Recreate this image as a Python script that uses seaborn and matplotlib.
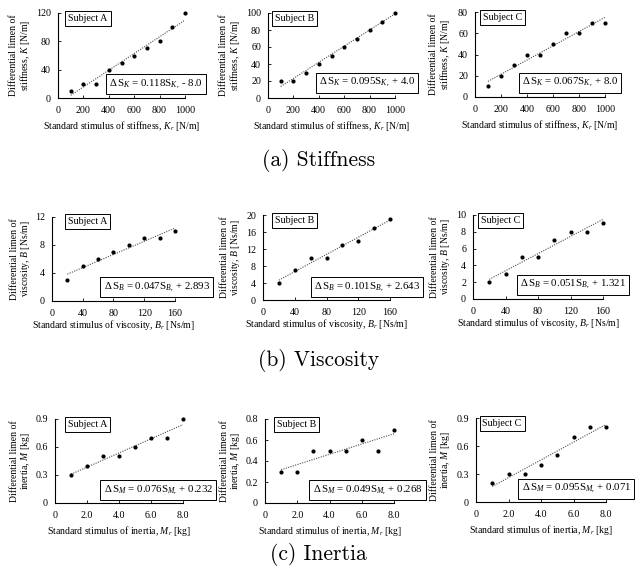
import numpy as np
import pandas as pd
import seaborn as sns
import matplotlib.pyplot as plt

# ---------------------------------------------------------------- data
stiff_x = [100, 200, 300, 400, 500, 600, 700, 800, 900, 1000]
stiff_a = [10, 20, 20, 40, 50, 60, 70, 80, 100, 120]
stiff_b = [20, 20, 30, 40, 50, 60, 70, 80, 90, 100]
stiff_c = [10, 20, 30, 40, 40, 50, 60, 60, 70, 70]
stiff_slope = [0.118, 0.095, 0.067]
stiff_icpt = [-8.0, 4.0, 8.0]

visc_x = [20, 40, 60, 80, 100, 120, 140, 160]
visc_a = [3, 5, 6, 7, 8, 9, 9, 10]
visc_b = [4, 7, 10, 10, 13, 14, 17, 19]
visc_c = [2, 3, 5, 5, 7, 8, 8, 9]
visc_slope = [0.047, 0.101, 0.051]
visc_icpt = [2.893, 2.643, 1.321]

inert_x = [1, 2, 3, 4, 5, 6, 7, 8]
inert_a = [0.3, 0.4, 0.5, 0.5, 0.6, 0.7, 0.7, 0.9]
inert_b = [0.3, 0.3, 0.5, 0.5, 0.5, 0.6, 0.5, 0.7]
inert_c = [0.2, 0.3, 0.3, 0.4, 0.5, 0.7, 0.8, 0.8]
inert_slope = [0.076, 0.049, 0.095]
inert_icpt = [0.232, 0.268, 0.071]

subjects = ["Subject A", "Subject B", "Subject C"]

stiff_xticks = [0, 200, 400, 600, 800, 1000]
stiff_yticks = [[0, 40, 80, 120], [0, 20, 40, 60, 80, 100], [0, 20, 40, 60, 80]]
visc_xticks = [0, 40, 80, 120, 160]
visc_yticks = [[0, 4, 8, 12], [0, 4, 8, 12, 16, 20], [0, 2, 4, 6, 8, 10]]
inert_xticks = [0, 2, 4, 6, 8]
inert_xticklabels = ["0", "2.0", "4.0", "6.0", "8.0"]
inert_yticks = [[0, 0.3, 0.6, 0.9], [0, 0.2, 0.4, 0.6, 0.8], [0, 0.3, 0.6, 0.9]]
inert_yticklabels = [["0", "0.3", "0.6", "0.9"], ["0", "0.2", "0.4", "0.6", "0.8"],
                     ["0", "0.3", "0.6", "0.9"]]

captions = ["(a) Stiffness", "(b) Viscosity", "(c) Inertia"]

# ---------------------------------------------------------------- style
sns.set_theme(style="ticks")
plt.rcParams.update({
    "font.family": ["Liberation Serif", "DejaVu Serif"],
    "mathtext.fontset": "custom",
    "mathtext.rm": "Liberation Serif",
    "mathtext.it": "Liberation Serif:italic",
    "mathtext.bf": "Liberation Serif:bold",
    "axes.linewidth": 0.8,
    "axes.edgecolor": "black",
    "xtick.color": "black",
    "ytick.color": "black",
    "text.color": "black",
    "axes.labelcolor": "black",
})

W, H = 637, 577
fig = plt.figure(figsize=(W / 100, H / 100), dpi=100)

# axes boxes in pixels: left, right, top, bottom
boxes = [
    [(58, 185, 13, 98), (268, 395, 13, 98), (475, 605, 12, 97)],
    [(52, 175, 217, 301), (263, 390, 215, 300), (473, 603, 215, 299)],
    [(55, 183, 419, 503), (265, 394, 419, 503), (476, 606, 418, 502)],
]
subj_pos = [
    [(0.08, 0.94), (0.055, 0.94), (0.06, 0.93)],
    [(0.13, 0.95), (0.095, 0.94), (0.06, 0.94)],
    [(0.10, 0.93), (0.09, 0.93), (0.05, 0.93)],
]
eq_pos = [
    [(0.40, 0.165), (0.40, 0.18), (0.36, 0.17)],
    [(0.42, 0.165), (0.40, 0.15), (0.36, 0.17)],
    [(0.38, 0.155), (0.37, 0.155), (0.35, 0.16)],
]
xlabel_pads = [2.5, 0.0, 2.5]

groups = [
    dict(x=stiff_x, ys=[stiff_a, stiff_b, stiff_c], slope=stiff_slope, icpt=stiff_icpt,
         dec=1, sym="K", xlim=(0, 1000), ylims=[(0, 120), (0, 100), (0, 80)],
         xticks=stiff_xticks, xticklabels=None, yticks=stiff_yticks, yticklabels=None,
         xlabel=r"Standard stimulus of stiffness, $K_r$ [N/m]",
         ylabel="Differential limen of\nstiffness, $K$ [N/m]"),
    dict(x=visc_x, ys=[visc_a, visc_b, visc_c], slope=visc_slope, icpt=visc_icpt,
         dec=3, sym="B", xlim=(0, 160), ylims=[(0, 12), (0, 20), (0, 10)],
         xticks=visc_xticks, xticklabels=None, yticks=visc_yticks, yticklabels=None,
         xlabel=r"Standard stimulus of viscosity, $B_r$ [Ns/m]",
         ylabel="Differential limen of\nviscosity, $B$ [Ns/m]"),
    dict(x=inert_x, ys=[inert_a, inert_b, inert_c], slope=inert_slope, icpt=inert_icpt,
         dec=3, sym="M", xlim=(0, 8), ylims=[(0, 0.9), (0, 0.8), (0, 0.9)],
         xticks=inert_xticks, xticklabels=inert_xticklabels, yticks=inert_yticks,
         yticklabels=inert_yticklabels,
         xlabel=r"Standard stimulus of inertia, $M_r$ [kg]",
         ylabel="Differential limen of\ninertia, $M$ [kg]"),
]

col_offsets = [0, 210, 420]

for r, g in enumerate(groups):
    for c in range(3):
        l, rt, t, b = boxes[r][c]
        ax = fig.add_axes([l / W, 1 - b / H, (rt - l) / W, (b - t) / H])
        x = np.array(g["x"], dtype=float)
        y = np.array(g["ys"][c], dtype=float)
        df = pd.DataFrame({"x": x, "y": y})

        # regression line from the stated coefficients
        xs = np.array([x[0], x[-1]])
        line = pd.DataFrame({"x": xs, "y": g["slope"][c] * xs + g["icpt"][c]})
        sns.lineplot(data=line, x="x", y="y", ax=ax, color="0.3", lw=0.8,
                     linestyle=(0, (1, 1.2)))
        sns.scatterplot(data=df, x="x", y="y", ax=ax, s=9, color="black",
                        linewidth=0, zorder=3, clip_on=False)

        ax.set_xlim(*g["xlim"])
        ax.set_ylim(*g["ylims"][c])
        ax.set_xticks(g["xticks"])
        if g["xticklabels"] is not None:
            ax.set_xticklabels(g["xticklabels"])
        ax.set_yticks(g["yticks"][c])
        if g["yticklabels"] is not None:
            ax.set_yticklabels(g["yticklabels"][c])
        ax.tick_params(direction="in", length=2.5, width=0.6, labelsize=7.2)
        ax.tick_params(axis="x", pad=6)
        ax.tick_params(axis="y", pad=5)
        sns.despine(ax=ax)

        ax.set_xlabel(g["xlabel"], fontsize=7, labelpad=xlabel_pads[r])
        ax.set_ylabel(g["ylabel"], fontsize=7, linespacing=1.0)
        lab_right = col_offsets[c] + 32
        ax.yaxis.set_label_coords((lab_right - l) / (rt - l), 0.5)

        sx, sy = subj_pos[r][c]
        ax.text(sx, sy, subjects[c], transform=ax.transAxes, fontsize=7.2,
                ha="left", va="center",
                bbox=dict(boxstyle="square,pad=0.3", fc="white", ec="black", lw=0.7))

        sym = g["sym"]
        k = g["icpt"][c]
        sign = "+" if k >= 0 else "-"
        eq = (rf"$\Delta\,\mathrm{{S}}_{{{sym}}}$ = {g['slope'][c]:.3f}"
              rf"S$_{{{sym}_r}}$ {sign} {abs(k):.{g['dec']}f}")
        ex, ey = eq_pos[r][c]
        ax.text(ex, ey, eq, transform=ax.transAxes, fontsize=7.8, ha="left",
                va="center", zorder=5, clip_on=False,
                bbox=dict(boxstyle="square,pad=0.3", fc="white", ec="black", lw=0.7))

cap_y = [160, 361, 554]
for cap, yy in zip(captions, cap_y):
    fig.text(0.5, 1 - yy / H, cap, fontsize=15.5, family="cmr10",
             ha="center", va="center")

fig.savefig("out.png", dpi=100, facecolor="white")
